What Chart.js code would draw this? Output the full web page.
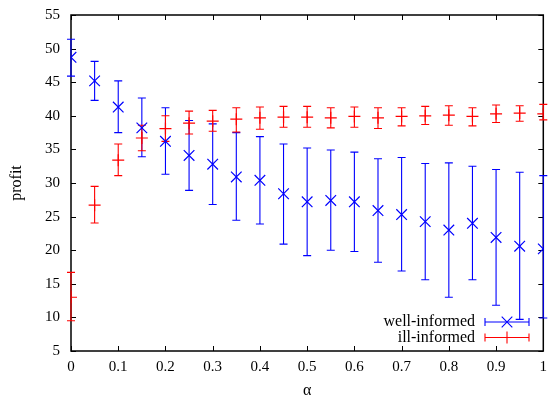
<!DOCTYPE html>
<html><head><meta charset="utf-8">
<script src="https://cdn.jsdelivr.net/npm/chart.js@4"></script>
<style>html,body{margin:0;padding:0;background:#fff}</style>
</head><body>
<canvas id="c" width="552" height="400"></canvas>
<script>
const alphas = [0,0.05,0.1,0.15,0.2,0.25,0.3,0.35,0.4,0.45,0.5,0.55,0.6,0.65,0.7,0.75,0.8,0.85,0.9,0.95,1];
const wellMean = [48.7,45.2,41.3,38.2,36.2,34.1,32.8,30.9,30.4,28.4,27.2,27.4,27.2,25.9,25.3,24.25,23.0,24.0,21.9,20.6,20.2];
const wellHigh = [51.4,48.1,45.2,42.65,41.2,39.3,38.8,37.5,36.9,35.8,35.2,34.9,34.6,33.6,33.8,32.9,33.0,32.5,32.0,31.6,31.1];
const wellLow  = [45.9,42.3,37.5,33.9,31.3,28.9,26.8,24.45,23.9,20.9,19.2,20.0,19.8,18.2,16.9,15.6,13.0,15.6,11.8,9.7,9.9];
const illMean  = [13.0,26.7,33.4,36.7,38.1,38.9,39.2,39.5,39.7,39.8,39.8,39.7,39.9,39.7,39.9,40.0,40.1,39.9,40.3,40.4,40.3];
const illHigh  = [16.7,29.5,35.8,38.6,40.0,40.7,40.8,41.2,41.3,41.4,41.4,41.2,41.3,41.2,41.2,41.4,41.5,41.2,41.6,41.5,41.7];
const illLow   = [9.5,24.05,31.1,34.8,36.2,37.3,37.7,37.6,38.0,38.3,38.3,38.2,38.3,38.1,38.5,38.7,38.6,38.5,39.0,39.2,39.4];
const seriesNames = ['well-informed','ill-informed'];
const xTitle = 'α';
const yTitle = 'profit';

const FONT = '"Liberation Serif", "DejaVu Serif", serif';
const BLUE = '#0000ff', RED = '#ff0000';

function pts(m){ return alphas.map((a,i)=>({x:a,y:m[i]})); }

function drawBars(chart, lo, hi, color){
  const xs = chart.scales.x, ys = chart.scales.y, ctx = chart.ctx;
  ctx.save();
  ctx.strokeStyle = color;
  ctx.lineWidth = 1.1;
  const cap = 4;
  lo.forEach((l,i)=>{
    const x = xs.getPixelForValue(alphas[i]);
    const y1 = ys.getPixelForValue(l), y2 = ys.getPixelForValue(hi[i]);
    ctx.beginPath();
    ctx.moveTo(x,y1); ctx.lineTo(x,y2);
    ctx.moveTo(x-cap,y1); ctx.lineTo(x+cap,y1);
    ctx.moveTo(x-cap,y2); ctx.lineTo(x+cap,y2);
    ctx.stroke();
  });
  ctx.restore();
}

const errorBars = {
  id:'errorBars',
  beforeDatasetsDraw(chart){
    const ctx = chart.ctx, a = chart.chartArea;
    const xs = chart.scales.x, ys = chart.scales.y;
    ctx.save();
    ctx.strokeStyle = '#000';
    ctx.lineWidth = 1.5;
    ctx.strokeRect(a.left, a.top, a.right-a.left, a.bottom-a.top);
    ctx.lineWidth = 1;
    const tl = 5;
    ctx.beginPath();
    xs.ticks.forEach(t=>{
      const x = Math.round(xs.getPixelForValue(t.value))+0.5;
      ctx.moveTo(x,a.bottom); ctx.lineTo(x,a.bottom-tl);
      ctx.moveTo(x,a.top); ctx.lineTo(x,a.top+tl);
    });
    ys.ticks.forEach(t=>{
      const y = Math.round(ys.getPixelForValue(t.value))+0.5;
      ctx.moveTo(a.left,y); ctx.lineTo(a.left+tl,y);
      ctx.moveTo(a.right,y); ctx.lineTo(a.right-tl,y);
    });
    ctx.stroke();
    ctx.restore();
    drawBars(chart, wellLow, wellHigh, BLUE);
    drawBars(chart, illLow, illHigh, RED);
  },
  afterDraw(chart){
    const ctx = chart.ctx;
    ctx.save();
    ctx.font = '16px ' + FONT;
    ctx.textAlign = 'right';
    ctx.textBaseline = 'middle';
    const rows = [[seriesNames[0],BLUE,'crossRot',322],[seriesNames[1],RED,'cross',337.5]];
    rows.forEach(([name,col,style,y])=>{
      ctx.fillStyle = '#000';
      ctx.fillText(name, 475, y);
      ctx.strokeStyle = col; ctx.lineWidth = 1.1;
      ctx.beginPath();
      ctx.moveTo(485,y); ctx.lineTo(529,y);
      ctx.moveTo(485,y-4); ctx.lineTo(485,y+4);
      ctx.moveTo(529,y-4); ctx.lineTo(529,y+4);
      ctx.stroke();
      Chart.helpers.drawPoint(ctx,{pointStyle:style,radius:style==='cross'?6:7.5,borderWidth:1.2},507,y);
    });
    ctx.restore();
  }
};

new Chart(document.getElementById('c'), {
  type:'scatter',
  data:{datasets:[
    {label:seriesNames[0], data:pts(wellMean), borderColor:BLUE, backgroundColor:BLUE,
     pointStyle:'crossRot', pointRadius:7.5, pointBorderWidth:1.2, order:2},
    {label:seriesNames[1], data:pts(illMean), borderColor:RED, backgroundColor:RED,
     pointStyle:'cross', pointRadius:6, pointBorderWidth:1.2, order:1}
  ]},
  options:{
    responsive:false, animation:false,
    layout:{padding:{top:15,right:4,left:0,bottom:0}},
    plugins:{legend:{display:false},tooltip:{enabled:false}},
    scales:{
      x:{type:'linear',min:0,max:1,
        ticks:{stepSize:0.1,color:'#000',font:{family:FONT,size:15},padding:7,maxRotation:0,
          callback:v=>String(Math.round(v*10)/10)},
        grid:{display:false,drawTicks:false}, border:{display:false},
        title:{display:true,text:xTitle,color:'#000',font:{family:FONT,size:16},padding:{top:0,bottom:0}},
        afterFit(s){ s.height = 49; s.paddingLeft = 0; s.paddingRight = 0; }
      },
      y:{type:'linear',min:5,max:55,
        ticks:{stepSize:5,color:'#000',font:{family:FONT,size:15},padding:11},
        grid:{display:false,drawTicks:false}, border:{display:false},
        title:{display:true,text:yTitle,color:'#000',font:{family:FONT,size:16},padding:{top:7,bottom:0}},
        afterFit(s){ s.width = 71; s.paddingTop = 0; s.paddingBottom = 0; }
      }
    }
  },
  plugins:[errorBars]
});
</script>
</body></html>
